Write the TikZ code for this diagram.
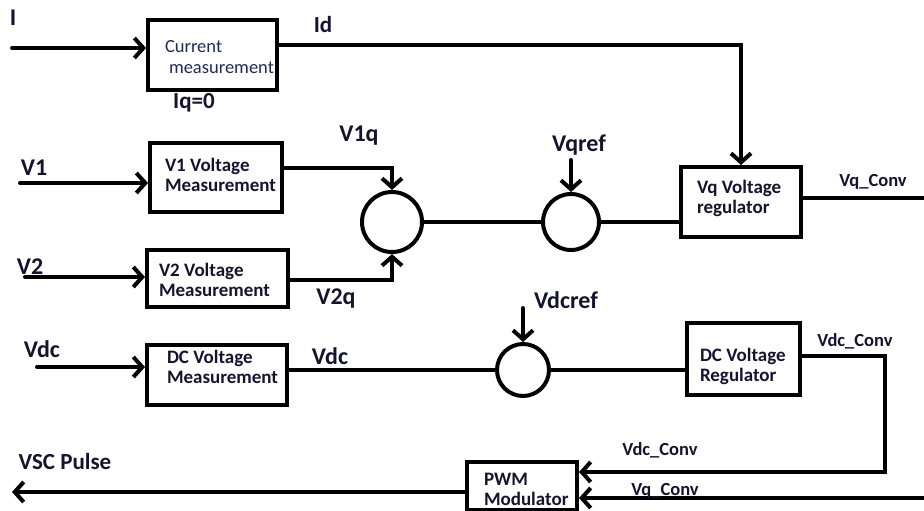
\documentclass[tikz,border=0pt]{standalone}
\usepackage{fontspec}
\setmainfont{Carlito}
\usetikzlibrary{arrows.meta}
\definecolor{ink}{HTML}{14142E}
\definecolor{inkb}{HTML}{1F2B55}
\begin{document}
\begin{tikzpicture}[x=1pt,y=-1pt,
  line width=4pt,
  blk/.style={draw,rectangle,inner sep=0pt},
  sumc/.style={draw,circle,inner sep=0pt},
  btxt/.style={anchor=north west,inner sep=0pt,align=left,font=\bfseries\fontsize{19}{20.5}\selectfont,text=ink},
  lab/.style={anchor=center,inner sep=0pt,font=\bfseries\fontsize{24}{28}\selectfont,text=ink},
  slab/.style={anchor=center,inner sep=0pt,font=\bfseries\fontsize{18.5}{22}\selectfont,text=ink},
  arr/.style={-{Straight Barb[length=9pt,width=20pt]}},
  line cap=round, line join=miter]
\useasboundingbox (0,0) rectangle (924,511);
% blocks
\node[blk,minimum width=129pt,minimum height=70pt] (cur) at (212.5,55) {};
\node[anchor=north west,inner sep=0pt,align=left,font=\fontsize{18.5}{21}\selectfont,text=inkb] (curt) at (163,38) {Current\\\hspace*{4pt}measurement};
\node[blk,minimum width=132pt,minimum height=69pt] (v1) at (216,177.5) {};
\node[btxt] (v1t) at (163,156) {V1 Voltage\\Measurement};
\node[blk,minimum width=141pt,minimum height=57pt] (v2) at (217.5,278.5) {};
\node[btxt] (v2t) at (157,261) {V2 Voltage\\Measurement};
\node[blk,minimum width=140pt,minimum height=60pt] (dc) at (217,375) {};
\node[btxt] (dct) at (165,348) {DC Voltage\\Measurement};
\node[blk,minimum width=120pt,minimum height=70pt] (vq) at (741,202) {};
\node[btxt] (vqt) at (695,178) {Vq Voltage\\regulator};
\node[blk,minimum width=113pt,minimum height=72pt] (dcr) at (743.5,359) {};
\node[btxt] (dcrt) at (698,346) {DC Voltage\\Regulator};
\node[blk,minimum width=110pt,minimum height=48pt] (pwm) at (522,486) {};
\node[btxt] (pwmt) at (482,471) {PWM\\Modulator};
% summing junctions
\node[sumc,minimum size=60pt] (s1) at (392,222) {};
\node[sumc,minimum size=56pt] (s2) at (571,222) {};
\node[sumc,minimum size=52pt] (s3) at (523,370) {};
% free ends
\coordinate (iin) at (12,48);
\coordinate (v1in) at (20,183);
\coordinate (v2in) at (25,277);
\coordinate (vdcin) at (37,367);
\coordinate (vqr) at (571,160);
\coordinate (vdr) at (523,308);
\coordinate (vqout) at (924,198);
\coordinate (dccorner) at (885,356);
\coordinate (vqin) at (924,498);
\coordinate (vscout) at (12,492);
% connectors
\draw[arr] (iin) -- (iin -| cur.west);
\draw[arr] ([yshift=10pt]cur.east) -| (vq.north);
\draw[arr] (v1in) -- (v1in -| v1.west);
\draw[arr] ([yshift=10pt]v1.east) -| (s1.north);
\draw[arr] (v2in) -- (v2in -| v2.west);
\draw[arr] ([yshift=-1.5pt]v2.east) -| (s1.south);
\draw (s1.east) -- (s2.west);
\draw[arr] (vqr) -- (s2.north);
\draw (s2.east) -- (s2.east -| vq.west);
\draw ([yshift=4pt]vq.east) -- (vqout);
\draw[arr] (vdcin) -- (vdcin -| dc.west);
\draw (s3.west -| dc.east) -- (s3.west);
\draw[arr] (vdr) -- (s3.north);
\draw (s3.east) -- (s3.east -| dcr.west);
\draw[arr] ([yshift=3pt]dcr.east) -- (dccorner) |- ([yshift=14pt]pwm.east);
\draw[arr] (vqin) -- (vqin -| pwm.east);
\draw[arr] ([yshift=-6pt]pwm.west) -- (vscout);
% labels
\node[lab] (lI) at (13,18) {I};
\node[lab,font=\bfseries\fontsize{23}{26}\selectfont] (lId) at (323,25) {Id};
\node[lab,font=\bfseries\fontsize{23}{26}\selectfont] (lIq) at (194,103) {Iq=0};
\node[lab] (lV1q) at (359,136) {V1q};
\node[lab] (lV1) at (34,168) {V1};
\node[lab] (lV2) at (30,267) {V2};
\node[lab] (lV2q) at (336,299) {V2q};
\node[lab] (lvqref) at (579,145) {Vqref};
\node[slab] (lvqc) at (873,182) {Vq\_Conv};
\node[lab] (lvdc) at (42,349) {Vdc};
\node[lab] (lvdc2) at (330,356) {Vdc};
\node[lab] (lvdcref) at (566,300) {Vdcref};
\node[slab] (lvdcc) at (855,341) {Vdc\_Conv};
\node[slab] (lvdcc2) at (660,450) {Vdc\_Conv};
\node[slab] (lvqc2) at (665,491) {Vq\_Conv};
\node[lab,font=\bfseries\fontsize{23}{26}\selectfont] (lvsc) at (65,462) {VSC Pulse};
\end{tikzpicture}
\end{document}
